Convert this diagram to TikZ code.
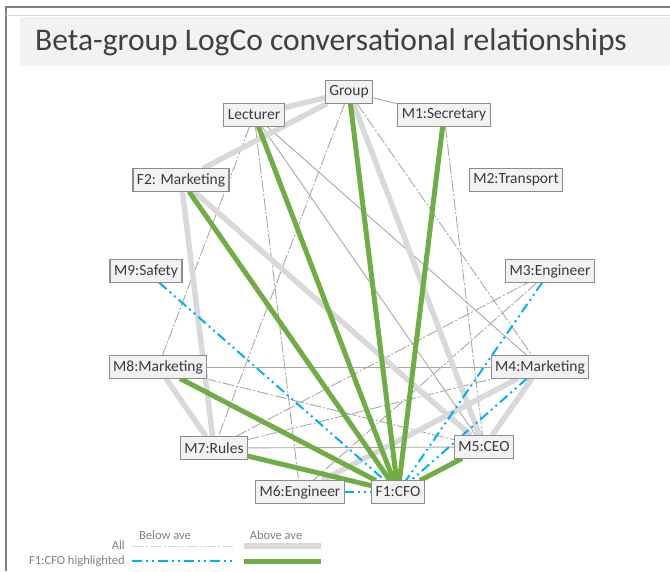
\documentclass[tikz,border=0pt]{standalone}
\usepackage{fontspec}
\setmainfont{Carlito}
\usetikzlibrary{backgrounds}
\definecolor{boxfill}{HTML}{F2F2F2}
\definecolor{boxline}{HTML}{8C8C8C}
\definecolor{labeltext}{HTML}{3A3A44}
\definecolor{titletext}{HTML}{404040}
\definecolor{cfogreen}{HTML}{70AD47}
\definecolor{cfoblue}{HTML}{00B0F0}
\definecolor{thickgray}{HTML}{D9D9D9}
\definecolor{thingray}{HTML}{A8A8A8}
\definecolor{legendtext}{HTML}{808080}
\definecolor{framegray}{HTML}{808080}
\begin{document}
\begin{tikzpicture}[x=1pt,y=-1pt,
 person/.style={draw=boxline,fill=boxfill,line width=1.2pt,inner xsep=4pt,inner ysep=0pt,minimum height=23pt,outer sep=0pt,font=\fontsize{15.5}{16}\selectfont,text=labeltext},
 plain/.style={draw=thingray,line width=.9pt},
 below/.style={draw=thingray,line width=.9pt,dash pattern=on 12pt off 2pt on 2pt off 2pt},
 above/.style={draw=thickgray,line width=5.5pt},
 hi/.style={draw=cfogreen,line width=5pt},
 lo/.style={draw=cfoblue,line width=2pt,dash pattern=on 10pt off 4pt on 2pt off 4pt on 2pt off 4pt},
 legend/.style={font=\fontsize{12.5}{13}\selectfont,text=legendtext,inner sep=0pt}]
\useasboundingbox (0,0) rectangle (670,571);
\draw[framegray,line width=1.5pt] (6,571) -- (6,7) -- (670,7);
\draw[thickgray,line width=1pt] (6,15) -- (670,15);
\fill[boxfill] (20,17) rectangle (670,66);
\node at(35,42)[anchor=west,inner sep=0pt,font=\fontsize{31.5}{32}\selectfont,text=titletext](title){Beta-group LogCo conversational relationships};
\foreach \n/\x/\y/\t in {G/349/92/Group,L/254/115/Lecturer,M1/444/115/M1:Secretary,
 F2/181/180/F2: Marketing,M2/516/180/M2:Transport,M9/146/271/M9:Safety,M3/550/271/M3:Engineer,
 M8/158/367/M8:Marketing,M4/540/367/M4:Marketing,M7/214/448/M7:Rules,M5/484/447/M5:CEO,
 M6/300/492/M6:Engineer,F1/398/492/F1:CFO}
 \node at(\x,\y)[person](\n){\t};
\begin{scope}[on background layer]
\foreach \a/\b in {G/M1,L/M5,L/M4,M8/M4,M7/M5}
 \draw[plain](\a)--(\b);
\foreach \a/\b in {G/M4,G/M7,L/M8,L/M6,M1/M5,M8/M5,M7/M3,M7/M4,M3/M6}
 \draw[below](\a)--(\b);
\foreach \a/\b in {G/L,G/F2,G/M5,F2/M5,F2/M7,M8/M7,M5/M4,M6/M4}
 \draw[above](\a)--(\b);
\foreach \a in {M9,M6,M3,M4}
 \draw[lo](\a)--(F1);
\foreach \a in {G,L,M1,F2,M8,M7,M5}
 \draw[hi](\a)--(F1);
\end{scope}
\node at(165,535)[legend](bel){Below ave};
\node at(276,535)[legend](abv){Above ave};
\node at(125,545)[legend,anchor=east](all){All};
\node at(125,561)[legend,anchor=east](hl){F1:CFO highlighted};
\coordinate (a1) at(132,546);
\coordinate (a2) at(233,546);
\coordinate (a3) at(244,546);
\coordinate (a4) at(321,546);
\coordinate (h1) at(132,561);
\coordinate (h2) at(233,561);
\coordinate (h3) at(244,561);
\coordinate (h4) at(321,561);
\draw[below,draw=thickgray](a1)--(a2);
\draw[above](a3)--(a4);
\draw[lo](h1)--(h2);
\draw[hi](h3)--(h4);
\end{tikzpicture}
\end{document}
